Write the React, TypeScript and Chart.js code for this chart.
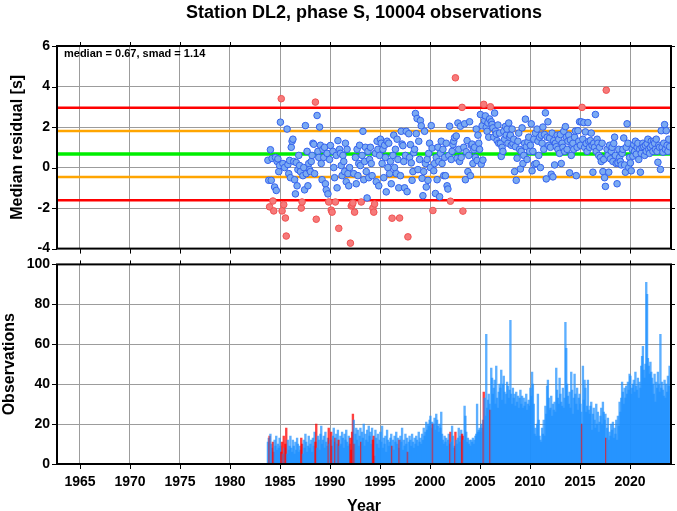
import { useEffect, useRef } from "react";
import { Chart, registerables } from "chart.js";
Chart.register(...registerables);

const chartTitle = "Station DL2, phase S, 10004 observations";
const median = 0.67;
const smad = 1.14;
const firstYear = 1983;
const firstMonth = 10; // first monthly bin: October 1983
const xMin = 1962.7;
const xMax = 2024.1;
const yearTicks = [1965, 1970, 1975, 1980, 1985, 1990, 1995, 2000, 2005, 2010, 2015, 2020];
const residualTicks = [-4, -2, 0, 2, 4, 6];
const countTicks = [0, 20, 40, 60, 80, 100];

// monthly median residuals [s], Oct 1983 .. Dec 2023
const residuals: (number | null)[] = [
  0.36, -0.63, -1.94,
  0.88, -0.63, 0.45, -1.65, -2.14, -0.96, 0.5, -1.13, 0.3, 0.43, -0.2, 0.1,
  2.24, 3.4, -2.14, 0.2, -1.83, 0.0, -2.49, -3.38, 1.9, 0.15, -0.3, 0.35,
  -0.5, 1.0, 1.3, 1.4, 0.3, -0.6, -1.3, 0.25, -0.9, -0.1, 0.6, 0.1,
  -0.2, -2.0, -1.7, -0.4, 0.0, -1.1, 2.07, -0.3, 0.8, -0.9, 0.2, -0.1,
  -0.2, 0.3, 0.6, 1.2, 1.15, -0.3, 3.23, -2.55, 2.57, 0.8, 0.5, 2.0,
  1.1, 0.2, -0.6, 0.9, 0.5, 1.0, -0.8, -1.1, 0.7, -1.3, -1.7, 0.4,
  1.09, -2.1, -2.2, 0.8, 0.0, -0.5, -1.7, 0.6, -1.0, 1.33, -3.0, 0.9,
  0.7, 0.1, -0.4, 0.6, 0.3, -0.2, 1.2, -0.7, 0.9, -0.3, -0.9, 0.0,
  -3.73, -1.9, -1.85, -1.75, -0.3, -2.2, 0.5, -0.8, 0.9, -0.4, 0.2, 1.1,
  0.1, -1.7, 0.6, 1.79, -0.6, 0.3, 1.0, -0.2, -1.5, 0.8, -0.5, 0.4,
  1.0, 0.2, -0.4, -2.0, -2.2, -1.8, 0.7, -0.7, 1.3, 0.9, -0.9, 0.6,
  1.4, 1.2, 0.2, 0.9, -0.5, 1.1, 0.5, -1.2, 1.3, 0.0, 1.2, -0.3,
  0.3, -0.8, -2.5, 0.6, 1.6, 0.0, 0.9, -0.3, 1.4, 0.4, -1.0, -2.49,
  -0.4, 1.79, 1.16, 1.08, 0.3, -1.0, 0.6, 1.79, -1.19, -3.42, 1.67, 0.5,
  1.13, 0.23, -0.63, -0.2, 0.73, 0.9, 2.67, 1.67, 2.42, -0.1, 1.3, 0.4,
  2.32, 2.06, -0.53, -1.39, -0.2, 1.79, 0.2, -0.96, 0.4, -0.63, 0.7, 1.2,
  0.0, 2.07, 0.96, -2.12, -0.16, 0.2, -1.28, 0.5, -0.6, 1.0, 0.3, -1.44,
  0.7, 1.3, 0.2, 0.9, -0.4, 0.5, -0.4, 1.2, -0.9, -1.06, 0.6, 2.04,
  -1.66, 0.4, 0.8, 1.13, 1.3, 1.48, 4.43, 1.56, 0.46, 2.2, 0.9, 0.3,
  2.04, 0.5, 2.97, -2.15, 1.0, 2.16, -0.6, 0.78, 1.33, -0.2, 0.6, 2.26,
  -0.4, 1.1, 1.16, 0.2, 0.88, 1.0, 0.5, 1.9, 0.35, 1.6, 1.2, 0.9,
  2.62, 0.17, 2.06, 0.37, 3.12, 2.32, 2.55, 1.99, 1.79, 2.2, 1.5, 2.4,
  3.0, 2.26, 2.13, 1.96, 1.5, 2.69, 1.8, 1.66, 1.33, 2.1, 1.2, 1.7,
  1.19, 0.55, 1.0, 0.8, 1.79, 1.4, 2.03, 1.6, 1.9, 1.2, 2.2, 1.5,
  1.6, 1.1, 1.9, 1.19, 1.4, -0.2, 1.03, -0.63, 0.46, 1.3, 1.7, 0.9,
  -0.07, 0.8, 1.96, 0.2, 0.6, 1.2, 2.39, 1.03, 0.4, 1.26, 1.5, 0.8,
  1.1, 2.16, -0.16, 0.8, 1.4, 0.16, 1.7, 0.2, 1.9, 1.3, 0.6, 1.5,
  0.0, 1.6, 1.2, 2.0, 0.9, 1.63, 2.7, -0.56, 1.5, 2.26, 1.1, 1.46,
  1.0, -0.33, 1.7, -0.46, 1.33, 0.13, 1.2, 1.03, 1.6, 0.9, 1.4, 0.7,
  1.63, 0.2, 1.2, 1.0, 1.79, 0.8, 2.02, 1.5, 0.9, 1.3, 1.6, -0.26,
  1.36, 0.6, 1.1, 1.2, 0.9, 1.5, 1.8, -0.4, 1.0, 1.82, 1.3, 2.26,
  1.1, 2.26, 2.97, 1.4, 2.22, 1.0, 1.76, 1.19, 0.8, 2.22, 1.3, 1.0,
  1.33, 1.7, 1.1, -0.23, 1.2, 1.0, 2.62, 0.8, 1.4, 1.2, 0.6, 1.0,
  0.5, 0.3, 1.2, -0.2, 0.4, -0.5, -0.93, 3.82, 0.9, 0.6, -0.23, 1.1,
  0.43, 0.8, 1.0, 0.3, 1.19, 1.5, 0.6, 0.2, -0.8, 0.23, 0.9, 0.5,
  0.3, 0.13, 0.7, 0.9, 1.46, 0.13, -0.23, 1.0, 2.16, 1.2, 0.0, 0.5,
  0.23, -0.16, 0.9, 0.56, 1.13, 0.8, 1.3, 0.66, 1.0, 1.2, 0.4, 0.9,
  -0.23, 0.7, 1.0, 1.2, 1.03, 0.6, 1.1, 0.8, 1.19, 1.4, 0.9, 0.7,
  1.0, 1.3, 1.1, 0.8, 1.3, 1.2, 0.9, 1.4, 0.8, 0.26, 1.1, 1.0,
  -0.09, 1.82, 1.0, 0.76, 1.2, 2.12, 0.9, 1.82, 1.1, 0.8, 1.4, 1.03,
];

// monthly number of observations, Oct 1983 .. Dec 2023
const counts: number[] = [
  11, 13, 14,
  15, 10, 8, 11, 6, 12, 9, 14, 7, 10, 8, 13,
  9, 6, 11, 5, 14, 8, 10, 18, 5, 12, 7, 9,
  14, 8, 6, 12, 9, 5, 11, 7, 13, 10, 6, 9,
  7, 13, 10, 5, 12, 8, 15, 11, 6, 9, 14, 8,
  10, 12, 6, 13, 9, 16, 11, 20, 8, 14, 12, 7,
  15, 19, 10, 12, 14, 8, 16, 11, 9, 13, 18, 10,
  12, 16, 9, 14, 18, 11, 13, 15, 10, 17, 12, 9,
  14, 10, 16, 13, 8, 15, 12, 17, 11, 9, 14, 10,
  13, 7, 16, 25, 22, 10, 15, 18, 12, 17, 9, 14,
  18, 11, 16, 13, 20, 9, 15, 12, 17, 11, 19, 14,
  16, 10, 18, 12, 14, 4, 17, 13, 10, 15, 8, 12,
  16, 11, 19, 8, 13, 10, 14, 6, 17, 12, 9, 11,
  13, 15, 9, 12, 7, 14, 11, 16, 10, 13, 8, 12,
  14, 11, 18, 7, 12, 9, 15, 10, 13, 6, 11, 14,
  12, 9, 15, 11, 8, 13, 10, 14, 12, 9, 16, 11,
  13, 10, 15, 12, 18, 14, 16, 21, 17, 20, 19, 22,
  24, 18, 21, 20, 20, 23, 17, 25, 22, 19, 16, 20,
  18, 26, 15, 12, 10, 14, 11, 13, 9, 12, 15, 10,
  16, 11, 19, 14, 8, 9, 16, 12, 10, 13, 18, 11,
  14, 17, 15, 14, 12, 29, 24, 16, 11, 13, 10, 12,
  9, 12, 11, 13, 10, 12, 14, 15, 30, 16, 17, 18,
  16, 20, 18, 22, 36, 33, 24, 65, 28, 32, 35, 30,
  27, 48, 43, 35, 38, 42, 30, 49, 33, 28, 36, 40,
  38, 47, 32, 40, 44, 36, 30, 35, 41, 39, 33, 37,
  72, 35, 30, 38, 33, 35, 29, 36, 31, 34, 28, 33,
  37, 30, 34, 28, 33, 29, 31, 35, 27, 30, 32, 29,
  38, 34, 46, 40, 30, 15, 18, 14, 20, 35, 22, 14,
  12, 11, 18, 15, 22, 14, 29, 25, 39, 42, 33, 27,
  28, 34, 24, 30, 27, 31, 26, 48, 37, 33, 30, 43,
  35, 31, 29, 38, 28, 33, 71, 58, 40, 34, 30, 36,
  28, 46, 37, 25, 33, 45, 35, 30, 38, 27, 33, 35,
  30, 26, 20, 49, 32, 42, 38, 26, 29, 42, 27, 25,
  29, 31, 17, 25, 28, 22, 18, 30, 20, 26, 16, 21,
  24, 28, 20, 31, 26, 22, 25, 13, 18, 23, 12, 16,
  14, 20, 17, 21, 13, 18, 15, 22, 12, 24, 19, 31,
  26, 33, 41, 36, 30, 38, 33, 39, 35, 41, 37, 45,
  44, 35, 38, 40, 42, 36, 46, 39, 37, 43, 33, 41,
  38, 49, 54, 59, 47, 43, 50, 91, 85, 53, 49, 45,
  51, 46, 43, 40, 35, 45, 31, 41, 38, 46, 40, 36,
  65, 38, 41, 37, 34, 42, 33, 40, 36, 44, 39, 49,
];

const FONT = '"Liberation Sans", Arial, Helvetica, sans-serif';
const monthX = (i: number) => firstYear + (firstMonth - 1 + i + 0.5) / 12;
const lo2 = median - 2 * smad;
const hi2 = median + 2 * smad;
const isOutlier = (v: number | null) => v !== null && (v > hi2 || v < lo2);

const fixedTicks = (vals: number[]) => (s: any) => {
  s.ticks = vals.map((v) => ({ value: v }));
};

function framePlugin(extra?: (chart: any) => void) {
  return {
    id: "frame",
    afterDraw(chart: any) {
      const { ctx, chartArea: a, scales } = chart;
      ctx.save();
      ctx.strokeStyle = "#000";
      ctx.lineWidth = 1;
      ctx.beginPath();
      for (const t of scales.x.ticks) {
        const px = Math.round(scales.x.getPixelForValue(t.value)) + 0.5;
        ctx.moveTo(px, a.bottom);
        ctx.lineTo(px, a.bottom + 5);
        ctx.moveTo(px, a.top);
        ctx.lineTo(px, a.top - 4);
      }
      for (const t of scales.y.ticks) {
        const py = Math.round(scales.y.getPixelForValue(t.value)) + 0.5;
        ctx.moveTo(a.left, py);
        ctx.lineTo(a.left - 5, py);
        ctx.moveTo(a.right, py);
        ctx.lineTo(a.right + 4, py);
      }
      ctx.stroke();
      ctx.lineWidth = 2;
      ctx.strokeRect(a.left, a.top, a.right - a.left, a.bottom - a.top);
      ctx.fillStyle = "#000";
      if (extra) extra(chart);
      ctx.restore();
    },
  };
}

function yTitle(ctx: CanvasRenderingContext2D, text: string, x: number, y: number) {
  ctx.save();
  ctx.translate(x, y);
  ctx.rotate(-Math.PI / 2);
  ctx.font = `bold 16px ${FONT}`;
  ctx.textAlign = "center";
  ctx.textBaseline = "middle";
  ctx.fillText(text, 0, 0);
  ctx.restore();
}

const gridColor = "#9c9c9c";
const tickFont = { family: FONT, size: 14, weight: "bold" };

export default function App() {
  const topRef = useRef<HTMLCanvasElement>(null);
  const botRef = useRef<HTMLCanvasElement>(null);

  useEffect(() => {
    const points = residuals
      .map((v, i) => (v === null ? null : { x: monthX(i), y: v }))
      .filter((p) => p !== null) as { x: number; y: number }[];
    const hline = (v: number, color: string, width: number) => ({
      type: "line" as const,
      data: [
        { x: xMin, y: v },
        { x: xMax, y: v },
      ],
      borderColor: color,
      borderWidth: width,
      pointRadius: 0,
      showLine: true,
      order: 1,
    });

    const top = new Chart(topRef.current!, {
      type: "scatter",
      data: {
        datasets: [
          {
            data: points,
            pointRadius: 3.3,
            pointBorderWidth: 1,
            pointBackgroundColor: (c: any) =>
              isOutlier(c.raw ? c.raw.y : null) ? "rgb(246,122,122)" : "rgb(122,170,242)",
            pointBorderColor: (c: any) =>
              isOutlier(c.raw ? c.raw.y : null) ? "rgb(240,82,82)" : "rgb(52,98,238)",
            order: 0,
          } as any,
          hline(hi2, "#ff0000", 2.5),
          hline(lo2, "#ff0000", 2.5),
          hline(median + smad, "#ffa500", 2.5),
          hline(median - smad, "#ffa500", 2.5),
          hline(median, "#00ee00", 3.5),
        ],
      },
      options: {
        animation: false,
        responsive: true,
        maintainAspectRatio: false,
        layout: { padding: { top: 46, left: 0, right: 6, bottom: 1 } },
        plugins: { legend: { display: false }, tooltip: { enabled: false } },
        scales: {
          x: {
            type: "linear",
            min: xMin,
            max: xMax,
            afterBuildTicks: fixedTicks(yearTicks),
            afterFit: (s: any) => {
              s.height = 0;
            },
            ticks: { display: false },
            grid: { color: gridColor, lineWidth: 1, drawTicks: false },
            border: { display: false },
          },
          y: {
            type: "linear",
            min: -4,
            max: 6,
            afterBuildTicks: fixedTicks(residualTicks),
            afterFit: (s: any) => {
              s.width = 57;
            },
            ticks: { color: "#000", padding: 7, font: tickFont },
            grid: { color: gridColor, lineWidth: 1, drawTicks: false },
            border: { display: false },
          },
        },
      },
      plugins: [
        framePlugin((chart) => {
          const { ctx, chartArea: a } = chart;
          ctx.font = `bold 18px ${FONT}`;
          ctx.textAlign = "center";
          ctx.textBaseline = "middle";
          ctx.fillText(chartTitle, (a.left + a.right) / 2, 13);
          ctx.font = `bold 11px ${FONT}`;
          ctx.textAlign = "left";
          ctx.fillText(`median = ${median.toFixed(2)}, smad = ${smad.toFixed(2)}`, a.left + 7, a.top + 8);
          yTitle(ctx, "Median residual [s]", 18, (a.top + a.bottom) / 2);
        }),
      ],
    } as any);

    const bars = counts.map((c, i) => ({ x: monthX(i), y: c }));
    const bot = new Chart(botRef.current!, {
      type: "bar",
      data: {
        datasets: [
          {
            data: bars,
            barThickness: 1.7,
            backgroundColor: (c: any) =>
              isOutlier(residuals[c.dataIndex] ?? null) ? "rgba(255,0,0,0.75)" : "rgba(30,144,255,0.72)",
            borderWidth: 0,
          } as any,
        ],
      },
      options: {
        animation: false,
        responsive: true,
        maintainAspectRatio: false,
        layout: { padding: { top: 3, left: 0, right: 6, bottom: 0 } },
        plugins: { legend: { display: false }, tooltip: { enabled: false } },
        scales: {
          x: {
            type: "linear",
            min: xMin,
            max: xMax,
            offset: false,
            afterBuildTicks: fixedTicks(yearTicks),
            afterFit: (s: any) => {
              s.height = 47;
            },
            ticks: {
              color: "#000",
              padding: 10,
              maxRotation: 0,
              autoSkip: false,
              callback: (v: any) => String(v),
              font: tickFont,
            },
            grid: { color: gridColor, lineWidth: 1, drawTicks: false, offset: false },
            border: { display: false },
          },
          y: {
            type: "linear",
            min: 0,
            max: 100,
            afterBuildTicks: fixedTicks(countTicks),
            afterFit: (s: any) => {
              s.width = 57;
            },
            ticks: { color: "#000", padding: 7, font: tickFont },
            grid: { color: gridColor, lineWidth: 1, drawTicks: false },
            border: { display: false },
          },
        },
      },
      plugins: [
        framePlugin((chart) => {
          const { ctx, chartArea: a } = chart;
          ctx.font = `bold 16px ${FONT}`;
          ctx.textAlign = "center";
          ctx.textBaseline = "middle";
          ctx.fillText("Year", (a.left + a.right) / 2, a.bottom + 43);
          yTitle(ctx, "Observations", 10, (a.top + a.bottom) / 2);
        }),
      ],
    } as any);

    return () => {
      top.destroy();
      bot.destroy();
    };
  }, []);

  return (
    <div style={{ position: "absolute", left: 0, top: 0, width: 677, height: 511, background: "#fff" }}>
      <div style={{ position: "absolute", left: 0, top: 249, width: 677, height: 262 }}>
        <canvas ref={botRef} />
      </div>
      <div style={{ position: "absolute", left: 0, top: 0, width: 677, height: 264 }}>
        <canvas ref={topRef} />
      </div>
    </div>
  );
}
